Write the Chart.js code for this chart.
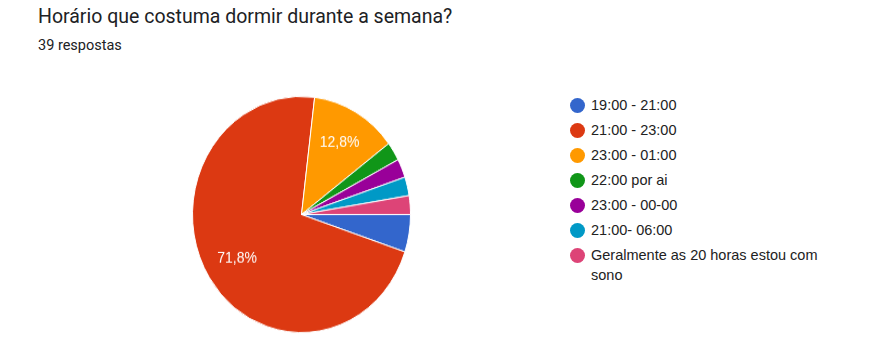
<!DOCTYPE html>
<html>
<head>
<meta charset="utf-8">
<script src="https://cdn.jsdelivr.net/npm/chart.js"></script>
<style>
  body { margin: 0; background: #fff; width: 887px; height: 352px; position: relative; overflow: hidden; }
  #title { position: absolute; left: 38px; top: 5px; font: 19.5px Roboto, sans-serif; color: #202124; }
  #sub { position: absolute; left: 38px; top: 37px; font: 14.5px Roboto, sans-serif; color: #202124; }
  #pieBox { position: absolute; left: 192px; top: 105px; width: 219px; height: 219px; transform: scaleY(1.083); transform-origin: 50% 50%; }
  #legend { position: absolute; left: 569px; top: 95px; width: 250px; font: 14.5px "Liberation Sans", Arial, sans-serif; color: #222; }
  .row { position: relative; padding-left: 22px; line-height: 20px; margin-bottom: 5px; }
  .dot { position: absolute; left: 1px; top: 3px; width: 15px; height: 15px; border-radius: 50%; }
</style>
</head>
<body>
<div id="title">Horário que costuma dormir durante a semana?</div>
<div id="sub">39 respostas</div>
<div id="pieBox"><canvas id="grafico"></canvas></div>
<div id="legend"></div>
<script>
const labels = ['19:00 - 21:00', '21:00 - 23:00', '23:00 - 01:00', '22:00 por ai', '23:00 - 00-00', '21:00- 06:00', 'Geralmente as 20 horas estou com sono'];
const respostas = [2, 28, 5, 1, 1, 1, 1];
const cores = ['#3366cc', '#dc3912', '#ff9900', '#109618', '#990099', '#0099c6', '#dd4477'];

const legend = document.getElementById('legend');
labels.forEach((l, i) => {
    const row = document.createElement('div');
    row.className = 'row';
    row.innerHTML = '<span class="dot" style="background:' + cores[i] + '"></span>' + l;
    legend.appendChild(row);
});

const total = respostas.reduce((a, b) => a + b, 0);

// percentages written inside the big slices, like google forms does
const percentLabels = {
    id: 'percentLabels',
    afterDatasetsDraw(chart) {
        const c = chart.ctx;
        const meta = chart.getDatasetMeta(0);
        c.save();
        c.fillStyle = '#fff';
        c.font = '14px "Liberation Sans", Arial, sans-serif';
        c.textAlign = 'center';
        c.textBaseline = 'middle';
        meta.data.forEach((arc, i) => {
            const pct = respostas[i] / total * 100;
            if (pct < 10) return;
            const mid = (arc.startAngle + arc.endAngle) / 2;
            const r = arc.outerRadius * 0.7;
            const x = arc.x + Math.cos(mid) * r;
            const y = arc.y + Math.sin(mid) * r;
            c.fillText(pct.toFixed(1).replace('.', ',') + '%', x, y);
        });
        c.restore();
    }
};

new Chart(document.getElementById('grafico'), {
    type: 'pie',
    data: {
        labels: labels,
        datasets: [{
            data: respostas,
            backgroundColor: cores,
            borderColor: '#fff',
            borderWidth: 1,
            hoverOffset: 0
        }]
    },
    options: {
        responsive: true,
        maintainAspectRatio: false,
        animation: false,
        rotation: 90,
        plugins: {
            legend: { display: false },
            tooltip: { enabled: false }
        }
    },
    plugins: [percentLabels]
});
</script>
</body>
</html>
